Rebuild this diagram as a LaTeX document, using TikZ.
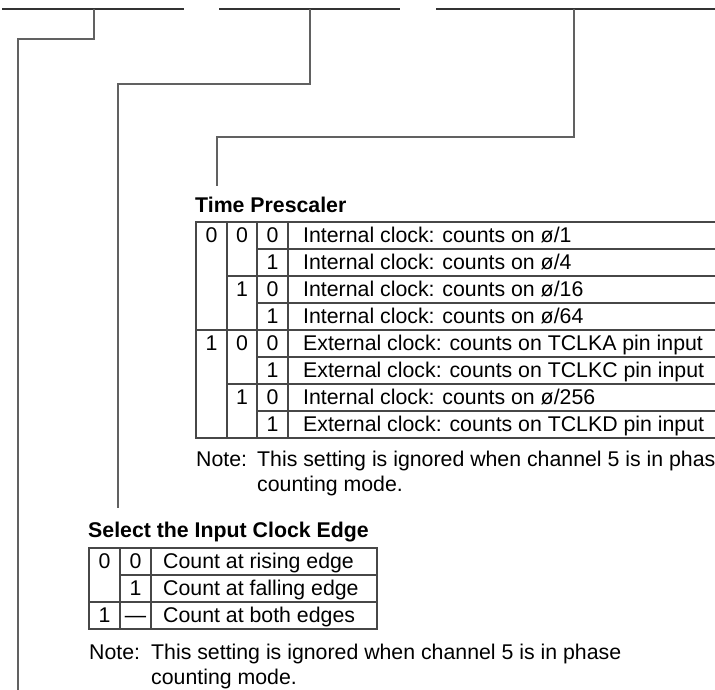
\documentclass[tikz,border=0pt]{standalone}
\usepackage{fontspec}
\setmainfont{Liberation Sans}
\begin{document}
\begin{tikzpicture}[x=1pt,y=-1pt,
  font=\fontsize{21.3}{25}\selectfont,
  bar/.style={line width=2pt, draw=black!80},
  conn/.style={line width=1.3pt, draw=black!62},
  tline/.style={line width=1.2pt, draw=black!72},
  txt/.style={anchor=base west, inner sep=0pt},
  dig/.style={anchor=base, inner sep=0pt},
  ttl/.style={anchor=base west, inner sep=0pt, font=\fontsize{21.3}{25}\selectfont\bfseries}]
\clip (0,0) rectangle (715,690);
% ---------- top bars ----------
\coordinate (b1s) at (2,9);   \coordinate (b1e) at (184,9);
\coordinate (b2s) at (219,9); \coordinate (b2e) at (400,9);
\coordinate (b3s) at (436,9); \coordinate (b3e) at (720,9);
\draw[bar] (b1s) -- (b1e);
\draw[bar] (b2s) -- (b2e);
\draw[bar] (b3s) -- (b3e);
% ---------- connectors ----------
\coordinate (d1) at (94,9);  \coordinate (k1) at (18,39);  \coordinate (e1) at (18,695);
\coordinate (d2) at (310,9); \coordinate (k2) at (118,84); \coordinate (e2) at (118,508);
\coordinate (d3) at (574,9); \coordinate (k3) at (217,137); \coordinate (e3) at (217,186);
\draw[conn] (d1) |- (k1) -- (e1);
\draw[conn] (d2) |- (k2) -- (e2);
\draw[conn] (d3) |- (k3) -- (e3);
% ---------- Time Prescaler ----------
\node[ttl] (tp) at (195,212.7) {Time Prescaler};
\draw[tline] (196,222) rectangle (730,438);
\draw[tline] (227,222) -- (227,438);
\draw[tline] (257,222) -- (257,438);
\draw[tline] (288,222) -- (288,438);
\draw[tline] (196,330) -- (730,330);
\draw[tline] (227,276) -- (730,276);
\draw[tline] (227,384) -- (730,384);
\draw[tline] (257,249) -- (730,249);
\draw[tline] (257,303) -- (730,303);
\draw[tline] (257,357) -- (730,357);
\draw[tline] (257,411) -- (730,411);
% column 1
\node[dig] (a1) at (211.5,242.5) {0};
\node[dig] (a5) at (211.5,350.5) {1};
% column 2
\node[dig] (b1) at (242,242.5) {0};
\node[dig] (b3) at (242,296.5) {1};
\node[dig] (b5) at (242,350.5) {0};
\node[dig] (b7) at (242,404.5) {1};
% column 3
\node[dig] (c1) at (272.5,242.5) {0};
\node[dig] (c2) at (272.5,269.5) {1};
\node[dig] (c3) at (272.5,296.5) {0};
\node[dig] (c4) at (272.5,323.5) {1};
\node[dig] (c5) at (272.5,350.5) {0};
\node[dig] (c6) at (272.5,377.5) {1};
\node[dig] (c7) at (272.5,404.5) {0};
\node[dig] (c8) at (272.5,431.5) {1};
% descriptions
\node[txt] (t1) at (303,242.5) {Internal clock: counts on ø/1};
\node[txt] (t2) at (303,269.5) {Internal clock: counts on ø/4};
\node[txt] (t3) at (303,296.5) {Internal clock: counts on ø/16};
\node[txt] (t4) at (303,323.5) {Internal clock: counts on ø/64};
\node[txt] (t5) at (303,350.5) {External clock: counts on TCLKA pin input};
\node[txt] (t6) at (303,377.5) {External clock: counts on TCLKC pin input};
\node[txt] (t7) at (303,404.5) {Internal clock: counts on ø/256};
\node[txt] (t8) at (303,431.5) {External clock: counts on TCLKD pin input};
% note 1
\node[txt] (n1a) at (196,466) {Note:};
\node[txt] (n1b) at (257,466) {This setting is ignored when channel 5 is in phase};
\node[txt] (n1c) at (257,491) {counting mode.};
% ---------- Select the Input Clock Edge ----------
\node[ttl] (ce) at (88,537) {Select the Input Clock Edge};
\draw[tline] (89,548) rectangle (377,629);
\draw[tline] (120,548) -- (120,629);
\draw[tline] (151,548) -- (151,629);
\draw[tline] (120,575) -- (377,575);
\draw[tline] (89,602) -- (377,602);
\node[dig] (e11) at (104.5,568.5) {0};
\node[dig] (e21) at (104.5,622.5) {1};
\node[dig] (e12) at (135.5,568.5) {0};
\node[dig] (e22) at (135.5,595.5) {1};
\node[dig] (e32) at (135.5,622.5) {—};
\node[txt] (s1) at (163,568.5) {Count at rising edge};
\node[txt] (s2) at (163,595.5) {Count at falling edge};
\node[txt] (s3) at (163,622.5) {Count at both edges};
% note 2
\node[txt] (n2a) at (89,659) {Note:};
\node[txt] (n2b) at (151,659) {This setting is ignored when channel 5 is in phase};
\node[txt] (n2c) at (151,684) {counting mode.};
\end{tikzpicture}
\end{document}
